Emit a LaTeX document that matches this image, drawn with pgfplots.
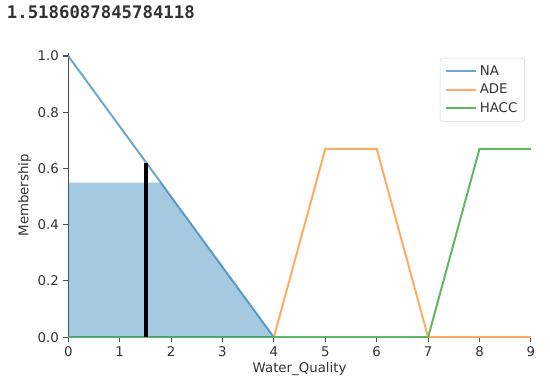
\documentclass[border=0pt]{standalone}
\usepackage{pgfplots}
\pgfplotsset{compat=1.18}
\usepackage{fontspec}
\setmainfont{DejaVu Sans}
\setmonofont{DejaVu Sans Mono}
\definecolor{c0}{HTML}{1F77B4}
\definecolor{c1}{HTML}{FF7F0E}
\definecolor{c2}{HTML}{2CA02C}
\colorlet{l0}{c0!65!white}
\colorlet{l1}{c1!65!white}
\colorlet{l2}{c2!75!white}
\definecolor{txt}{HTML}{333333}
\begin{document}
\begin{tikzpicture}
\path[use as bounding box] (0,0) rectangle (412.5pt,290.25pt);
\node[anchor=west, font=\fontsize{13}{15}\selectfont\ttfamily\bfseries, text=txt, inner sep=0pt] at (5pt,281.25pt) {1.5186087845784118};
\begin{axis}[
  at={(51.2pt,37.35pt)}, anchor=south west,
  scale only axis, width=347pt, height=213pt,
  xmin=0, xmax=9, ymin=0, ymax=1.01,
  axis lines*=left,
  axis line style={line width=0.8pt, black!70, -},
  xtick={0,1,...,9},
  ytick={0,0.2,0.4,0.6,0.8,1.0},
  yticklabel style={/pgf/number format/.cd, fixed, fixed zerofill, precision=1},
  /pgf/number format/assume math mode=true,
  tick align=outside, major tick length=3.6pt,
  tick style={line width=0.8pt, black!70},
  ticklabel style={font=\fontsize{10}{12}\selectfont, text=txt},
  xlabel={Water\_Quality}, ylabel={Membership},
  label style={font=\fontsize{10}{12}\selectfont, text=txt},
  xlabel style={yshift=3pt},
  ylabel style={yshift=-2pt},
  legend style={at={(1,1)}, anchor=north east, xshift=-4.5pt, yshift=-3.5pt,
    draw=black!15, rounded corners=2pt, font=\fontsize{10}{12}\selectfont, text=txt,
    row sep=1pt, inner sep=3.5pt},
  legend cell align=left,
  legend image code/.code={\draw[#1] (0cm,0cm) -- (0.8cm,0cm);},
]
\addplot[l0, line width=1.5pt] coordinates {(0,1) (4,0) (9,0)};
\addlegendentry{NA}
\addplot[l1, line width=1.5pt] coordinates {(0,0) (4,0) (5,0.67) (6,0.67) (7,0) (9,0)};
\addlegendentry{ADE}
\addplot[l2, line width=1.5pt] coordinates {(0,0) (7,0) (8,0.67) (9,0.67)};
\addlegendentry{HACC}
\addplot[fill=c0, fill opacity=0.4, draw=none, forget plot] coordinates {(0,0) (0,0.55) (1.8,0.55) (4,0) (9,0)} \closedcycle;
\addplot[black, line width=3.1pt, forget plot] coordinates {(1.5186,0) (1.5186,0.6204)};
\end{axis}
\end{tikzpicture}
\end{document}
